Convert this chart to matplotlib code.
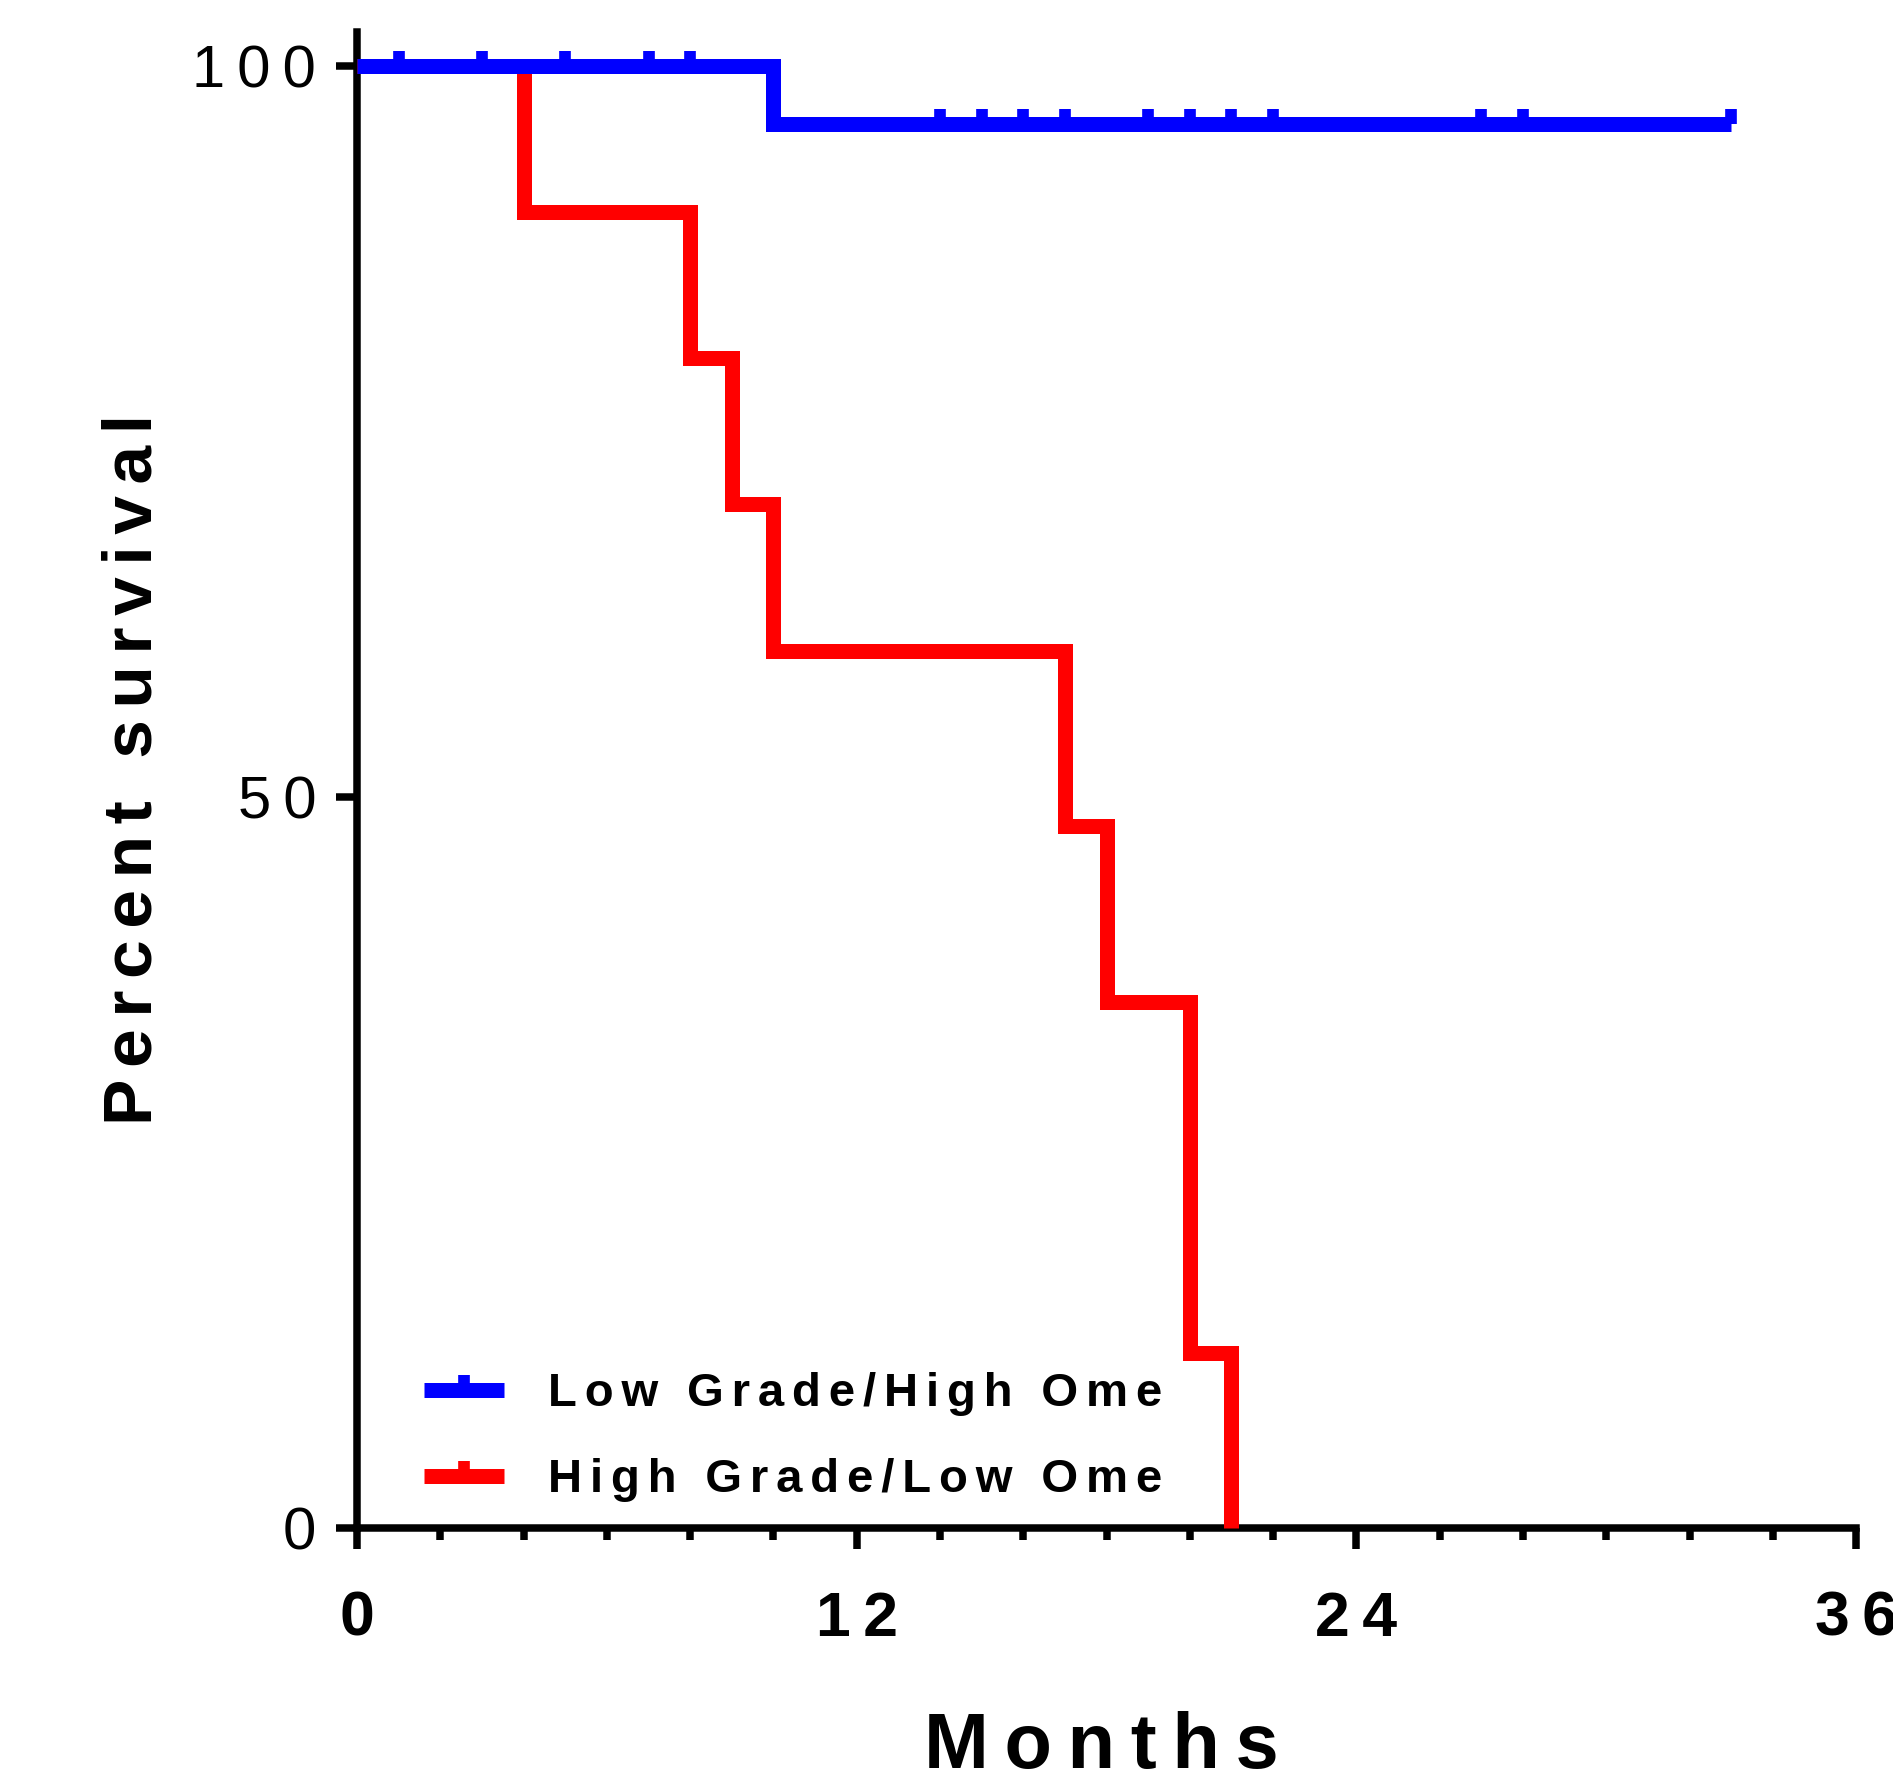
import matplotlib
matplotlib.use("Agg")
import matplotlib.pyplot as plt
from matplotlib.lines import Line2D
from matplotlib.ticker import FixedLocator, MultipleLocator

plt.rcParams['font.family'] = ['Liberation Sans', 'DejaVu Sans']

# Kaplan-Meier curves (months, percent survival)
low_grade_months = [0, 10, 33]
low_grade_surv = [100, 96, 96]
low_grade_censored = [1, 3, 5, 7, 8, 14, 15, 16, 17, 19, 20, 21, 22, 27, 28, 33]

high_grade_months = [0, 4, 8, 9, 10, 17, 18, 20, 21]
high_grade_surv = [100, 90, 80, 70, 60, 48, 36, 12, 0]

series_names = ["Low Grade/High Ome", "High Grade/Low Ome"]
series_colors = ["#0000ff", "#ff0000"]
x_ticks = [0, 12, 24, 36]
y_ticks = [0, 50, 100]

LINE_W = 10.8
TICK_MS = 10.8
TICK_MEW = 8.4

THIN = "\u2009"      # 1/5 em
SIXTH = "\u2006"     # 1/6 em


def spaced(text, sep=THIN):
    # Prism style letter spacing
    return sep.join(text)


def surv_at(months, surv, t):
    value = surv[0]
    for m, s in zip(months, surv):
        if m <= t:
            value = s
    return value


def main():
    fig = plt.figure(figsize=(18.93, 17.77), dpi=100)
    ax = fig.add_axes([0.1886, 0.1401, 0.7919, 0.8419])

    ax.step(high_grade_months, high_grade_surv, where='post', color=series_colors[1], lw=LINE_W,
            solid_joinstyle='miter', solid_capstyle='butt', clip_on=False, zorder=3)
    ax.step(low_grade_months, low_grade_surv, where='post', color=series_colors[0], lw=LINE_W,
            solid_joinstyle='miter', solid_capstyle='butt', clip_on=False, zorder=4)
    censor_y = [surv_at(low_grade_months, low_grade_surv, t) for t in low_grade_censored]
    ax.plot(low_grade_censored, censor_y, linestyle='none', marker=2, ms=TICK_MS, mew=TICK_MEW,
            color=series_colors[0], clip_on=False, zorder=4)

    ax.set_xlim(0, 36)
    ax.set_ylim(0, 102.3)

    for side in ['top', 'right']:
        ax.spines[side].set_visible(False)
    for side in ['left', 'bottom']:
        ax.spines[side].set_linewidth(5.4)
        ax.spines[side].set_capstyle('projecting')

    ax.xaxis.set_major_locator(FixedLocator(x_ticks))
    ax.xaxis.set_minor_locator(MultipleLocator(2))
    ax.set_xticklabels([spaced(str(v)) for v in x_ticks], fontsize=45, fontweight='bold')
    ax.yaxis.set_major_locator(FixedLocator(y_ticks))
    ax.set_yticklabels([spaced(str(v)) for v in y_ticks], fontsize=43)

    ax.tick_params(axis='both', which='major', length=15.3, width=5.4, direction='out', color='black')
    ax.tick_params(axis='x', which='minor', length=8.6, width=5.4, direction='out', color='black')
    ax.tick_params(axis='x', which='major', pad=29)
    ax.tick_params(axis='y', which='major', pad=14)

    ax.set_ylabel(spaced("Percent survival", SIXTH), fontsize=50, fontweight='bold')
    ax.yaxis.label.set_va('baseline')
    ax.yaxis.set_label_coords(-0.1368, 0.507)
    ax.set_xlabel(spaced("Months"), fontsize=56, fontweight='bold')
    ax.xaxis.label.set_va('baseline')
    ax.xaxis.set_label_coords(0.4963, -0.1604)

    handles = [Line2D([], [], color=c, lw=LINE_W, solid_capstyle='butt', marker=2,
                      ms=TICK_MS, mew=TICK_MEW) for c in series_colors]
    ax.legend(handles, [spaced(n, SIXTH) for n in series_names], loc='upper left',
              bbox_to_anchor=(0.0447, 0.104), frameon=False, borderpad=0, borderaxespad=0,
              handlelength=1.69, handletextpad=0.93, labelspacing=0.89, numpoints=1,
              prop={'weight': 'bold', 'size': 34})

    fig.savefig('out.png', dpi=100)


if __name__ == "__main__":
    main()
